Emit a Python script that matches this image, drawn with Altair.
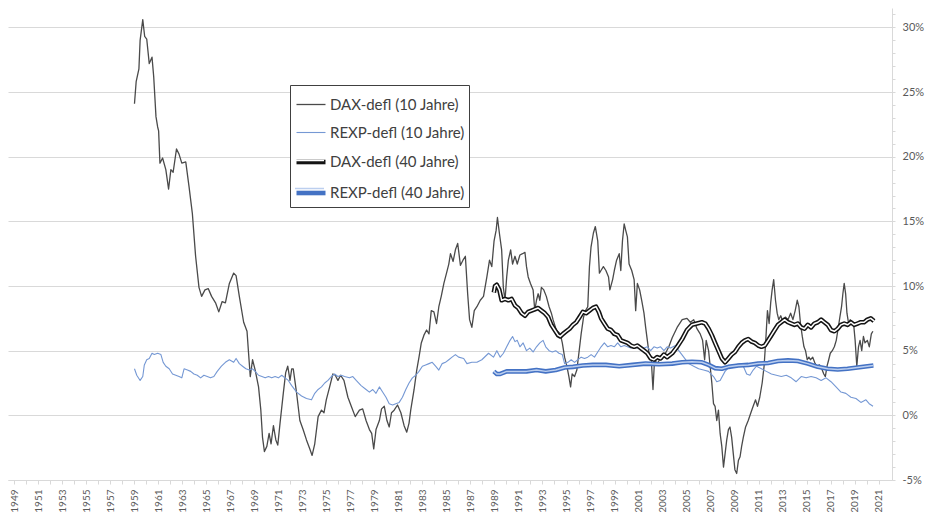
import altair as alt
import pandas as pd

SERIES = ["DAX-defl (10 Jahre)", "REXP-defl (10 Jahre)", "DAX-defl (40 Jahre)", "REXP-defl (40 Jahre)"]
INNER_KEYS = ["i1", "i2", "i3", "i4"]

DAX10_YEARS = [1959.03, 1959.17, 1959.40, 1959.50, 1959.72, 1959.88, 1960.05, 1960.26, 1960.49, 1960.63,
               1960.82, 1960.96, 1961.04, 1961.15, 1961.37, 1961.64, 1961.87, 1962.06, 1962.25, 1962.53,
               1962.74, 1962.97, 1963.30, 1963.57, 1963.85, 1964.12, 1964.40, 1964.62, 1964.90, 1965.17,
               1965.45, 1965.78, 1966.05, 1966.33, 1966.60, 1966.93, 1967.29, 1967.49, 1967.76, 1968.12,
               1968.40, 1968.53, 1968.67, 1968.86, 1969.08, 1969.36, 1969.55, 1969.69, 1969.85, 1970.05,
               1970.24, 1970.40, 1970.60, 1970.80, 1970.96, 1971.15, 1971.42, 1971.62, 1971.79, 1971.98,
               1972.12, 1972.25, 1972.53, 1972.80, 1973.07, 1973.35, 1973.63, 1973.82, 1974.04, 1974.32,
               1974.60, 1974.81, 1975.00, 1975.28, 1975.55, 1975.75, 1975.97, 1976.19, 1976.47, 1976.80,
               1977.08, 1977.41, 1977.76, 1978.03, 1978.31, 1978.59, 1978.78, 1978.95, 1979.14, 1979.42,
               1979.60, 1979.83, 1980.05, 1980.24, 1980.43, 1980.65, 1980.93, 1981.21, 1981.48, 1981.70,
               1981.89, 1982.03, 1982.31, 1982.53, 1982.72, 1982.91, 1983.13, 1983.35, 1983.55, 1983.74,
               1983.96, 1984.18, 1984.37, 1984.57, 1984.79, 1985.01, 1985.20, 1985.34, 1985.56, 1985.75,
               1985.94, 1986.17, 1986.38, 1986.58, 1986.77, 1986.93, 1987.12, 1987.32, 1987.54, 1987.82,
               1988.09, 1988.37, 1988.59, 1988.78, 1988.97, 1989.14, 1989.25, 1989.41, 1989.60, 1989.74,
               1989.88, 1990.02, 1990.16, 1990.35, 1990.51, 1990.71, 1990.90, 1991.12, 1991.34, 1991.54,
               1991.67, 1991.81, 1992.00, 1992.22, 1992.36, 1992.50, 1992.64, 1992.78, 1992.91, 1993.11,
               1993.32, 1993.55, 1993.74, 1993.88, 1994.15, 1994.48, 1994.65, 1994.84, 1995.03, 1995.20,
               1995.34, 1995.47, 1995.67, 1995.86, 1996.03, 1996.22, 1996.42, 1996.58, 1996.77, 1996.91,
               1997.04, 1997.24, 1997.40, 1997.60, 1997.74, 1997.87, 1998.07, 1998.28, 1998.50, 1998.61,
               1998.84, 1998.98, 1999.17, 1999.39, 1999.52, 1999.66, 1999.80, 1999.93, 2000.07, 2000.21,
               2000.43, 2000.63, 2000.76, 2000.90, 2001.09, 2001.26, 2001.45, 2001.59, 2001.73, 2001.87,
               2002.06, 2002.20, 2002.33, 2002.55, 2002.75, 2002.97, 2003.24, 2003.52, 2003.80, 2004.21,
               2004.63, 2005.03, 2005.31, 2005.59, 2005.86, 2006.13, 2006.33, 2006.50, 2006.63, 2006.83,
               2006.96, 2007.10, 2007.24, 2007.37, 2007.51, 2007.65, 2007.79, 2007.93, 2008.07, 2008.20,
               2008.34, 2008.48, 2008.61, 2008.75, 2008.89, 2009.02, 2009.17, 2009.31, 2009.45, 2009.58,
               2009.72, 2009.91, 2010.13, 2010.35, 2010.54, 2010.74, 2010.90, 2011.09, 2011.29, 2011.45,
               2011.59, 2011.73, 2011.87, 2012.00, 2012.12, 2012.25, 2012.40, 2012.54, 2012.67, 2012.84,
               2013.02, 2013.22, 2013.44, 2013.66, 2013.85, 2014.04, 2014.21, 2014.35, 2014.48, 2014.63,
               2014.77, 2014.90, 2015.04, 2015.18, 2015.31, 2015.50, 2015.70, 2015.86, 2016.06, 2016.25,
               2016.42, 2016.55, 2016.69, 2016.83, 2016.96, 2017.13, 2017.30, 2017.46, 2017.63, 2017.76,
               2017.90, 2018.01, 2018.12, 2018.24, 2018.35, 2018.49, 2018.62, 2018.76, 2018.90, 2019.03,
               2019.17, 2019.31, 2019.44, 2019.58, 2019.72, 2019.85, 2020.05, 2020.21, 2020.38, 2020.51]
DAX10_VALUES = [24.1, 25.8, 26.8, 29.0, 30.6, 29.3, 29.1, 27.2, 27.7, 26.2,
                23.1, 22.3, 22.0, 19.5, 19.9, 19.0, 17.5, 19.0, 18.8, 20.6,
                20.2, 19.5, 19.6, 17.7, 15.6, 12.3, 9.9, 9.2, 9.7, 9.8,
                9.2, 8.7, 8.0, 8.8, 8.7, 10.2, 11.0, 10.8, 9.2, 7.2,
                6.5, 4.8, 3.0, 4.3, 3.5, 2.2, 0.4, -1.7, -2.8, -2.4,
                -1.4, -2.2, -0.8, -1.9, -2.3, -0.6, 1.7, 3.3, 3.8, 2.7,
                3.6, 3.6, 1.7, -0.4, -1.1, -1.9, -2.6, -3.1, -2.2, -0.1,
                0.4, 0.2, 1.2, 2.2, 3.2, 3.1, 2.7, 3.1, 2.7, 1.4,
                0.7, -0.1, 0.4, 0.5, -0.4, -1.1, -1.4, -2.6, -1.1, -0.4,
                0.5, 0.7, -0.4, -0.9, 0.2, 0.4, 0.8, 0.2, -0.8, -1.3,
                -0.6, 0.4, 2.0, 3.5, 4.5, 5.6, 6.2, 6.6, 6.3, 8.1,
                8.0, 7.1, 8.4, 9.2, 10.2, 11.0, 11.7, 12.5, 11.9, 12.8,
                13.3, 11.6, 12.0, 12.3, 9.4, 7.4, 6.8, 8.1, 8.4, 8.9,
                9.2, 10.7, 12.0, 11.5, 13.5, 14.3, 15.3, 14.1, 12.8, 9.9,
                8.9, 10.7, 12.0, 12.8, 11.7, 12.3, 11.7, 12.4, 12.5, 12.6,
                11.5, 10.7, 10.2, 9.7, 8.1, 8.9, 9.4, 8.9, 9.9, 9.7,
                9.2, 8.4, 7.9, 7.4, 6.6, 6.3, 5.6, 4.5, 3.8, 3.0,
                2.2, 3.2, 3.0, 3.5, 4.8, 6.3, 7.6, 8.1, 8.4, 11.5,
                13.0, 14.1, 14.6, 13.5, 11.0, 11.2, 11.5, 11.2, 10.7, 9.7,
                10.5, 11.2, 12.0, 12.5, 11.2, 13.5, 14.8, 14.3, 13.8, 11.7,
                11.2, 10.5, 8.1, 10.2, 9.7, 8.9, 7.9, 6.8, 5.8, 4.8,
                4.3, 2.0, 4.3, 4.0, 4.3, 4.5, 4.8, 5.3, 6.0, 6.8,
                7.4, 7.5, 7.2, 7.4, 6.7, 6.3, 5.8, 4.3, 5.8, 5.0,
                3.8, 2.5, 0.9, 0.7, -0.4, 0.4, -1.4, -2.4, -4.0, -3.0,
                -1.9, -1.1, -0.9, -1.7, -3.0, -4.2, -4.5, -3.5, -3.2, -2.4,
                -1.7, -0.9, -0.4, 0.2, 0.7, 1.2, 0.7, 1.4, 2.5, 3.8,
                5.8, 8.1, 7.1, 8.7, 9.7, 10.5, 8.9, 7.9, 7.4, 7.7,
                7.2, 7.6, 7.4, 7.9, 7.4, 8.1, 8.9, 8.4, 7.1, 6.1,
                5.3, 5.0, 4.3, 4.5, 4.3, 4.5, 4.0, 3.8, 3.9, 3.6,
                3.2, 3.0, 3.8, 4.3, 4.8, 5.0, 5.3, 5.8, 6.8, 7.6,
                8.4, 9.4, 10.2, 9.4, 7.9, 7.1, 7.4, 7.1, 7.1, 5.8,
                3.8, 5.3, 5.8, 5.0, 6.1, 5.6, 5.8, 5.3, 6.3, 6.5]

REXP10_YEARS = [1959.03, 1959.22, 1959.50, 1959.72, 1959.85, 1960.05, 1960.26, 1960.49, 1960.68, 1960.96,
                1961.23, 1961.42, 1961.64, 1961.92, 1962.20, 1962.47, 1962.74, 1962.97, 1963.16, 1963.44,
                1963.71, 1963.98, 1964.26, 1964.54, 1964.81, 1965.09, 1965.36, 1965.64, 1965.92, 1966.27,
                1966.60, 1966.93, 1967.29, 1967.49, 1967.76, 1968.03, 1968.31, 1968.59, 1968.86, 1969.08,
                1969.36, 1969.64, 1969.91, 1970.19, 1970.46, 1970.74, 1971.01, 1971.29, 1971.56, 1971.84,
                1972.12, 1972.53, 1972.94, 1973.35, 1973.77, 1974.04, 1974.32, 1974.60, 1974.87, 1975.14,
                1975.42, 1975.69, 1975.97, 1976.25, 1976.52, 1976.93, 1977.21, 1977.49, 1977.90, 1978.31,
                1978.59, 1978.87, 1979.14, 1979.42, 1979.69, 1979.97, 1980.24, 1980.52, 1980.79, 1981.07,
                1981.34, 1981.62, 1981.89, 1982.17, 1982.45, 1982.72, 1983.00, 1983.27, 1983.55, 1983.82,
                1984.10, 1984.37, 1984.65, 1984.92, 1985.20, 1985.47, 1985.75, 1986.02, 1986.44, 1986.71,
                1987.12, 1987.54, 1987.95, 1988.51, 1988.92, 1989.20, 1989.48, 1989.75, 1990.02, 1990.30,
                1990.51, 1990.71, 1990.90, 1991.12, 1991.39, 1991.67, 1991.94, 1992.22, 1992.50, 1992.78,
                1993.05, 1993.27, 1993.55, 1993.82, 1994.10, 1994.37, 1994.65, 1994.84, 1995.12, 1995.39,
                1995.67, 1995.94, 1996.22, 1996.50, 1996.77, 1997.05, 1997.33, 1997.60, 1997.88, 1998.15,
                1998.43, 1998.70, 1998.98, 1999.26, 1999.53, 1999.81, 2000.08, 2000.36, 2000.63, 2000.90,
                2001.18, 2001.46, 2001.73, 2002.01, 2002.28, 2002.55, 2002.83, 2003.11, 2003.38, 2003.66,
                2004.07, 2004.35, 2004.76, 2005.17, 2005.59, 2006.00, 2006.41, 2006.83, 2007.24, 2007.51,
                2007.79, 2008.20, 2008.61, 2009.02, 2009.45, 2009.72, 2010.00, 2010.27, 2010.54, 2010.82,
                2011.23, 2011.64, 2012.06, 2012.47, 2012.88, 2013.30, 2013.71, 2014.12, 2014.54, 2014.95,
                2015.36, 2015.78, 2016.20, 2016.61, 2017.02, 2017.44, 2017.85, 2018.26, 2018.68, 2019.10,
                2019.51, 2019.93, 2020.20, 2020.52]
REXP10_VALUES = [3.6, 3.1, 2.7, 3.0, 3.9, 4.3, 4.4, 4.8, 4.7, 4.8,
                 4.7, 4.1, 3.8, 3.6, 3.2, 3.1, 3.0, 2.9, 3.6, 3.5,
                 3.4, 3.2, 3.1, 2.9, 3.1, 3.0, 2.9, 3.0, 3.4, 3.8,
                 4.1, 4.3, 4.1, 4.4, 4.0, 3.8, 3.6, 3.5, 3.6, 3.4,
                 3.1, 3.0, 2.9, 3.0, 2.9, 3.0, 2.9, 3.1, 2.9, 2.7,
                 2.3, 1.8, 1.5, 1.3, 1.2, 1.7, 2.0, 2.2, 2.5, 2.7,
                 3.0, 3.2, 3.0, 3.1, 3.0, 2.9, 3.0, 2.7, 2.3, 2.0,
                 1.8, 2.0, 1.7, 2.2, 1.8, 1.4, 0.9, 0.8, 0.9, 1.0,
                 1.4, 2.0, 2.5, 2.9, 3.1, 3.4, 3.8, 3.9, 4.0, 4.1,
                 3.8, 3.5, 4.0, 4.1, 4.3, 4.5, 4.7, 4.5, 4.4, 4.0,
                 4.1, 4.1, 4.3, 4.8, 4.5, 5.0, 4.5, 4.8, 5.3, 5.8,
                 6.1, 5.7, 5.8, 5.3, 5.6, 5.0, 5.2, 4.9, 5.3, 5.6,
                 5.8, 5.3, 5.0, 4.9, 5.0, 4.8, 4.7, 4.0, 4.1, 4.3,
                 4.1, 4.3, 4.5, 4.4, 4.5, 4.7, 4.5, 4.9, 5.3, 5.6,
                 5.3, 5.4, 5.3, 5.6, 5.3, 5.4, 5.3, 5.2, 5.3, 5.2,
                 5.3, 5.2, 5.3, 5.0, 5.3, 5.2, 5.3, 5.0, 5.3, 5.2,
                 5.4, 5.0, 4.5, 4.0, 3.8, 3.6, 3.5, 3.4, 3.0, 2.6,
                 2.7, 3.4, 3.8, 3.9, 4.0, 3.8, 3.2, 3.1, 3.5, 3.8,
                 3.6, 3.4, 3.2, 3.1, 3.0, 3.1, 2.9, 2.6, 3.0, 2.9,
                 3.0, 2.9, 2.7, 2.9, 2.6, 2.2, 1.8, 1.7, 1.4, 1.3,
                 1.0, 1.2, 0.9, 0.7]

DAX40_YEARS = [1988.95, 1989.05, 1989.19, 1989.41, 1989.60, 1989.88, 1990.16, 1990.43, 1990.71, 1990.98,
               1991.26, 1991.54, 1991.81, 1992.09, 1992.36, 1992.64, 1992.91, 1993.19, 1993.47, 1993.74,
               1994.02, 1994.30, 1994.48, 1994.71, 1994.98, 1995.26, 1995.54, 1995.81, 1996.09, 1996.36,
               1996.64, 1996.91, 1997.19, 1997.46, 1997.69, 1997.88, 1998.15, 1998.43, 1998.70, 1998.98,
               1999.26, 1999.53, 1999.81, 2000.08, 2000.36, 2000.63, 2000.90, 2001.18, 2001.46, 2001.73,
               2002.01, 2002.28, 2002.55, 2002.83, 2003.11, 2003.38, 2003.80, 2004.21, 2004.63, 2005.03,
               2005.45, 2005.86, 2006.27, 2006.55, 2006.83, 2007.10, 2007.37, 2007.65, 2007.93, 2008.20,
               2008.48, 2008.75, 2009.02, 2009.31, 2009.58, 2009.86, 2010.13, 2010.41, 2010.68, 2010.96,
               2011.23, 2011.51, 2011.79, 2012.06, 2012.33, 2012.61, 2012.88, 2013.16, 2013.44, 2013.71,
               2013.98, 2014.26, 2014.54, 2014.81, 2015.09, 2015.36, 2015.64, 2015.92, 2016.20, 2016.47,
               2016.75, 2017.02, 2017.30, 2017.58, 2017.85, 2018.12, 2018.40, 2018.68, 2018.95, 2019.23,
               2019.50, 2019.78, 2020.05, 2020.33, 2020.60]
DAX40_VALUES = [9.5, 10.0, 10.1, 9.7, 8.9, 9.0, 8.9, 9.0, 8.5, 8.3,
                7.9, 7.7, 8.0, 8.1, 8.2, 8.3, 8.1, 7.9, 7.6, 7.0,
                6.6, 6.2, 6.1, 6.3, 6.5, 6.7, 7.0, 7.2, 7.6, 8.0,
                7.9, 8.1, 8.3, 8.4, 8.0, 7.5, 7.1, 6.7, 6.6, 6.3,
                6.2, 5.8, 5.7, 5.6, 5.4, 5.3, 5.4, 5.2, 5.0, 4.8,
                4.4, 4.3, 4.5, 4.4, 4.7, 4.5, 4.8, 5.3, 5.9, 6.6,
                7.0, 7.1, 7.2, 7.1, 6.7, 6.2, 5.6, 5.0, 4.4, 4.1,
                4.4, 4.7, 4.9, 5.3, 5.6, 5.8, 5.9, 5.7, 5.6, 5.4,
                5.3, 5.4, 5.8, 6.2, 6.6, 7.0, 7.2, 7.4, 7.2, 7.1,
                7.0, 7.1, 6.8, 6.7, 7.0, 6.8, 7.1, 7.2, 7.4, 7.2,
                7.0, 6.6, 6.5, 6.7, 7.0, 7.1, 7.0, 7.2, 7.0, 7.1,
                7.2, 7.2, 7.4, 7.5, 7.3]

REXP40_YEARS = [1988.95, 1989.20, 1989.48, 1990.02, 1990.90, 1991.67, 1992.50, 1993.27, 1994.10, 1994.84,
                1995.54, 1996.36, 1997.19, 1998.28, 1999.39, 2000.50, 2001.59, 2002.70, 2003.80, 2004.63,
                2005.45, 2006.27, 2006.83, 2007.37, 2007.93, 2008.48, 2009.31, 2010.13, 2010.96, 2011.79,
                2012.61, 2013.44, 2014.26, 2015.09, 2015.92, 2016.75, 2017.58, 2018.40, 2019.23, 2020.05,
                2020.55]
REXP40_VALUES = [3.4, 3.2, 3.2, 3.4, 3.4, 3.4, 3.5, 3.4, 3.5, 3.7,
                 3.75, 3.85, 3.9, 3.9, 3.8, 3.9, 4.0, 3.95, 4.0, 4.1,
                 4.15, 4.1, 3.9, 3.65, 3.6, 3.75, 3.85, 3.9, 4.0, 4.05,
                 4.2, 4.25, 4.2, 4.0, 3.75, 3.6, 3.55, 3.6, 3.7, 3.8,
                 3.85]

YEAR_TICKS = list(range(1949, 2022))
PCT_TICKS = list(range(-5, 32))

OUTER_COLORS = ["#4a4a4a", "#7598d4", "#141414", "#4472c4"]
OUTER_WIDTHS = [1.3, 1.1, 4.6, 4.6]
INNER_COLORS = ["transparent", "transparent", "#ffffff", "#bccfef"]

rows = []
for name, key, ys, vs in [(SERIES[0], INNER_KEYS[0], DAX10_YEARS, DAX10_VALUES),
                          (SERIES[1], INNER_KEYS[1], REXP10_YEARS, REXP10_VALUES),
                          (SERIES[2], INNER_KEYS[2], DAX40_YEARS, DAX40_VALUES),
                          (SERIES[3], INNER_KEYS[3], REXP40_YEARS, REXP40_VALUES)]:
    for yr, v in zip(ys, vs):
        rows.append({"year": yr, "value": v, "series": name, "series_in": key})
df = pd.DataFrame(rows)

FONT = "Lato"
GRID = "#d9d9d9"

x_enc = alt.X("year:Q",
              scale=alt.Scale(domain=[1948.5, 2022.1], nice=False, zero=False),
              axis=alt.Axis(values=YEAR_TICKS, format="d",
                            labelExpr="datum.value % 2 === 1 ? datum.label : ''",
                            labelAngle=-90, labelOverlap=False, labelFlush=False,
                            grid=False, domainColor=GRID, tickColor=GRID, tickSize=4,
                            labelColor="#595959", labelFont=FONT, labelFontSize=10,
                            labelPadding=5, title=None))
y_enc = alt.Y("value:Q",
              scale=alt.Scale(domain=[-5, 31.5], nice=False, zero=False),
              axis=alt.Axis(orient="right", values=PCT_TICKS,
                            labelExpr="datum.value % 5 === 0 ? datum.value + '%' : ''",
                            labelOverlap=False, grid=True, gridColor=GRID,
                            gridOpacity={"condition": {"test": "datum.value % 5 === 0", "value": 1}, "value": 0},
                            domainColor=GRID, tickColor=GRID, tickSize=3,
                            labelColor="#595959", labelFont=FONT, labelFontSize=11,
                            labelPadding=7, title=None))

common_legend = dict(title=None, orient="none", legendX=282, legendY=77,
                     padding=4, rowPadding=4, symbolSize=841, symbolType="stroke",
                     labelFont=FONT, labelFontSize=15, labelOffset=2, labelLimit=300)
legend_a = alt.Legend(strokeColor="#404040", fillColor="white", labelColor="#404040",
                      zindex=1, **common_legend)
legend_b = alt.Legend(labelExpr="''", symbolStrokeWidth=1.5, zindex=2, **common_legend)

color_enc = alt.Color("series:N", scale=alt.Scale(domain=SERIES, range=OUTER_COLORS), legend=legend_a)
width_enc = alt.StrokeWidth("series:N", scale=alt.Scale(type="ordinal", domain=SERIES, range=OUTER_WIDTHS),
                            legend=legend_a)
inner_enc = alt.Stroke("series_in:N", scale=alt.Scale(domain=INNER_KEYS, range=INNER_COLORS), legend=legend_b)

base = alt.Chart(df)


def outer(name):
    return base.transform_filter(alt.datum.series == name).mark_line(
        strokeJoin="round").encode(x=x_enc, y=y_enc, color=color_enc, strokeWidth=width_enc)


def inner(name):
    return base.transform_filter(alt.datum.series == name).mark_line(
        strokeWidth=1.5, strokeJoin="round").encode(x=x_enc, y=y_enc, stroke=inner_enc)


chart = alt.layer(
    outer(SERIES[0]), outer(SERIES[1]),
    outer(SERIES[2]), inner(SERIES[2]),
    outer(SERIES[3]), inner(SERIES[3]),
).properties(
    width=884, height=472,
    autosize=alt.AutoSizeParams(type="none"),
    padding={"left": 0, "top": 0, "right": 37, "bottom": 32},
    background="white",
).configure_view(stroke=None)

chart.save("out.html", embed_options={"renderer": "svg", "actions": False})
